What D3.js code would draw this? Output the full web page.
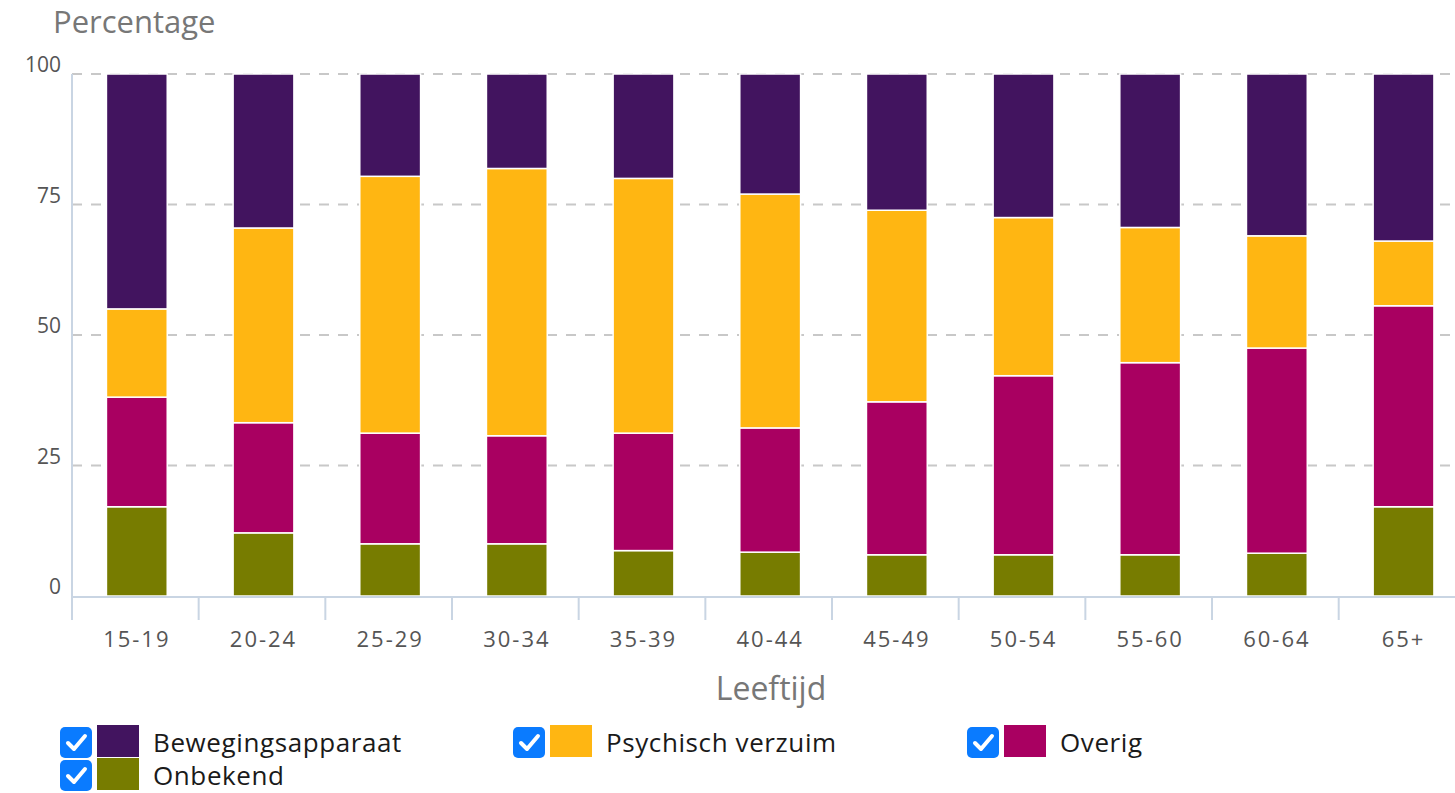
<!DOCTYPE html>
<html><head><meta charset="utf-8">
<script src="https://cdn.jsdelivr.net/npm/d3@7"></script>
<style>
html,body{margin:0;padding:0;background:#fff;overflow:hidden;}
svg{display:block;}
</style></head>
<body>
<svg id="chart" width="1455" height="793"></svg>
<script>
const categories = ["15-19","20-24","25-29","30-34","35-39","40-44","45-49","50-54","55-60","60-64","65+"];
const seriesNames = ["Bewegingsapparaat","Psychisch verzuim","Overig","Onbekend"];
const seriesColors = ["#42145f","#ffb612","#a90061","#777c00"];
const onbekend = [17.1, 12.1, 10.0, 10.0, 8.7, 8.4, 7.9, 7.9, 7.9, 8.2, 17.1];
const overig = [21.0, 21.1, 21.2, 20.7, 22.5, 23.8, 29.3, 34.3, 36.8, 39.3, 38.5];
const psychisch = [16.9, 37.3, 49.2, 51.2, 48.8, 44.8, 36.7, 30.3, 25.9, 21.5, 12.4];
const beweging = [45.0, 29.5, 19.6, 18.1, 20.0, 23.0, 26.1, 27.5, 29.4, 31.0, 32.0];
const yTicks = [0, 25, 50, 75, 100];

(function () {
const svg = d3.select("#chart");
const font = "'Open Sans', sans-serif";
const mLeft = 72, mTop = 74, mBottom = 596;
const step = 126.67;
const x = d3.scaleBand().domain(categories).range([mLeft, mLeft + step * categories.length]).padding(0);
const y = d3.scaleLinear().domain([0, 100]).range([mBottom, mTop]);

svg.append("g").selectAll("line").data(yTicks.filter(t => t > 0)).join("line")
  .attr("x1", mLeft).attr("x2", 1455)
  .attr("y1", d => y(d)).attr("y2", d => y(d))
  .attr("stroke", "#c8c8c8").attr("stroke-width", 2).attr("stroke-dasharray", "10,9");

const rows = categories.map((c, i) => ({cat: c, Onbekend: onbekend[i], Overig: overig[i], "Psychisch verzuim": psychisch[i], Bewegingsapparaat: beweging[i]}));
const stackKeys = ["Onbekend","Overig","Psychisch verzuim","Bewegingsapparaat"];
const stacked = d3.stack().keys(stackKeys)(rows);
const color = d3.scaleOrdinal().domain(seriesNames).range(seriesColors);
const barW = x.bandwidth() * 0.48;

svg.append("g").selectAll("g").data(stacked).join("g")
  .attr("fill", d => color(d.key))
  .selectAll("rect").data(d => d).join("rect")
  .attr("x", d => x(d.data.cat) + x.bandwidth() / 2 + 1.5 - barW / 2)
  .attr("width", barW)
  .attr("y", d => y(d[1]))
  .attr("height", d => y(d[0]) - y(d[1]))
  .attr("stroke", "#fff").attr("stroke-width", 1.5);

const axisColor = "#c9d5e3";
svg.append("line").attr("x1", mLeft).attr("x2", mLeft).attr("y1", mTop).attr("y2", mBottom + 1)
  .attr("stroke", axisColor).attr("stroke-width", 2);
svg.append("line").attr("x1", mLeft).attr("x2", 1455).attr("y1", mBottom + 1).attr("y2", mBottom + 1)
  .attr("stroke", axisColor).attr("stroke-width", 2);
svg.append("g").selectAll("line").data(categories).join("line")
  .attr("x1", d => x(d)).attr("x2", d => x(d))
  .attr("y1", mBottom + 1).attr("y2", 620)
  .attr("stroke", axisColor).attr("stroke-width", 2);

svg.append("g").selectAll("text").data(yTicks).join("text")
  .attr("x", 61).attr("y", d => y(d) - 2)
  .attr("text-anchor", "end")
  .attr("font-family", font).attr("font-size", 21).attr("fill", "#555")
  .text(d => d);

svg.append("g").selectAll("text").data(categories).join("text")
  .attr("x", d => x(d) + x.bandwidth() / 2 + 1.5).attr("y", 647)
  .attr("text-anchor", "middle")
  .attr("font-family", font).attr("font-size", 22).attr("letter-spacing", 2).attr("fill", "#555")
  .text(d => d);

svg.append("text").attr("x", 53).attr("y", 33)
  .attr("font-family", font).attr("font-size", 31).attr("fill", "#777")
  .text("Percentage");
svg.append("text").attr("x", 771).attr("y", 700).attr("text-anchor", "middle")
  .attr("font-family", font).attr("font-size", 32).attr("fill", "#777")
  .text("Leeftijd");

const legendPos = [[60, 727], [513, 727], [967, 727], [60, 760]];
const lg = svg.append("g").selectAll("g").data(seriesNames).join("g")
  .attr("transform", (d, i) => `translate(${legendPos[i][0]},${legendPos[i][1]})`);
lg.append("rect").attr("x", 0).attr("y", 0).attr("width", 32).attr("height", 31).attr("rx", 5)
  .attr("fill", "#0a7bff");
lg.append("path").attr("d", "M8,16 L14,22 L25,9").attr("fill", "none")
  .attr("stroke", "#fff").attr("stroke-width", 4).attr("stroke-linecap", "round").attr("stroke-linejoin", "round");
lg.append("rect").attr("x", 37).attr("y", -2).attr("width", 42).attr("height", 32)
  .attr("fill", d => color(d));
lg.append("text").attr("x", 93).attr("y", 25)
  .attr("font-family", font).attr("font-size", 26).attr("letter-spacing", 0.6).attr("fill", "#1a1a1a")
  .text(d => d);
})();
</script>
</body></html>
